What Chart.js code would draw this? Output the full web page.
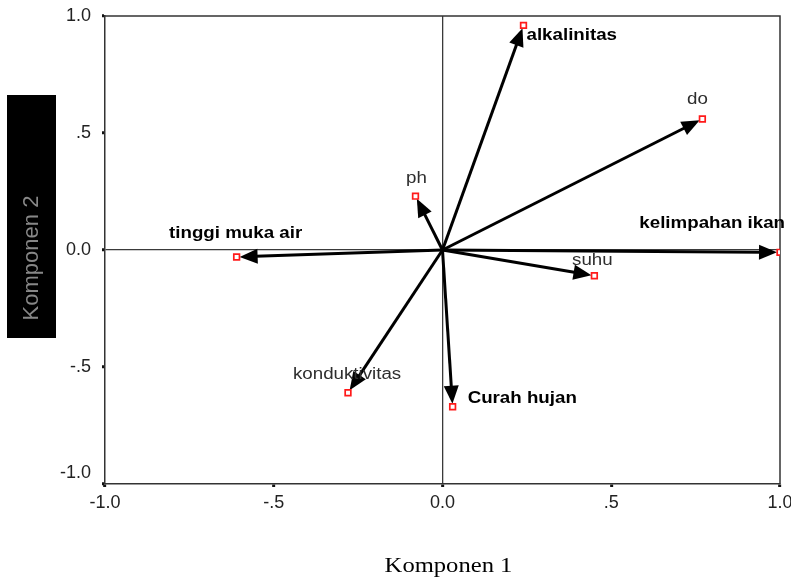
<!DOCTYPE html>
<html>
<head>
<meta charset="utf-8">
<script src="https://cdn.jsdelivr.net/npm/chart.js@4.4.1/dist/chart.umd.min.js"></script>
<style>
  html, body { margin: 0; padding: 0; background: #fff; }
  #wrap { width: 791px; height: 580px; position: relative; }
</style>
</head>
<body>
<div id="wrap"><canvas id="biplot" width="791" height="580"></canvas></div>
<script>
// Loadings of each variable on the first two components
const variables = ['alkalinitas', 'do', 'ph', 'tinggi muka air', 'kelimpahan ikan', 'suhu', 'konduktivitas', 'Curah hujan'];
const komponen1 = [0.24, 0.77, -0.08, -0.61, 1.00, 0.45, -0.28, 0.03];
const komponen2 = [0.96, 0.56, 0.23, -0.03, -0.01, -0.11, -0.61, -0.67];

// Axis ticks
const tickValues = [-1, -0.5, 0, 0.5, 1];
const tickLabels = ['-1.0', '-.5', '0.0', '.5', '1.0'];

// How each variable name is written next to its point
const labelStyle = {
  'alkalinitas':     { bold: true,  align: 'left',   dx: 3,  dy: 10 },
  'do':              { bold: false, align: 'center', dx: -5, dy: -19 },
  'ph':              { bold: false, align: 'center', dx: 1,  dy: -18 },
  'tinggi muka air': { bold: true,  align: 'center', dx: -1, dy: -23 },
  'kelimpahan ikan': { bold: true,  align: 'right',  dx: 5,  dy: -29 },
  'suhu':            { bold: false, align: 'center', dx: -2, dy: -15 },
  'konduktivitas':   { bold: false, align: 'left',   dx: -55, dy: -18 },
  'Curah hujan':     { bold: true,  align: 'left',   dx: 15, dy: -8 }
};

const SANS = '"Liberation Sans", Arial, sans-serif';
const SERIF = '"Liberation Serif", "Times New Roman", serif';
const TEXT_STRETCH = 1.17;   // labels are set slightly wide

function tickText(v, axis) {
  const i = tickValues.findIndex(t => Math.abs(t - v) < 1e-9);
  if (i < 0) return '';
  // lift the lowest y label clear of the x labels
  if (axis === 'y' && i === 0) return [tickLabels[i], ''];
  return tickLabels[i];
}

function wideText(ctx, text, x, y, align) {
  const w = ctx.measureText(text).width * TEXT_STRETCH;
  let left = x;
  if (align === 'center') left = x - w / 2;
  else if (align === 'right') left = x - w;
  ctx.save();
  ctx.translate(left, y);
  ctx.scale(TEXT_STRETCH, 1);
  ctx.textAlign = 'left';
  ctx.fillText(text, 0, 0);
  ctx.restore();
}

// Arrows from the origin to every loading
const arrowPlugin = {
  id: 'arrows',
  beforeDatasetsDraw(chart) {
    const { ctx, scales } = chart;
    const x0 = scales.x.getPixelForValue(0);
    const y0 = scales.y.getPixelForValue(0);
    ctx.save();
    ctx.strokeStyle = '#000';
    ctx.fillStyle = '#000';
    ctx.lineWidth = 3;
    variables.forEach((name, i) => {
      const px = scales.x.getPixelForValue(komponen1[i]);
      const py = scales.y.getPixelForValue(komponen2[i]);
      const dx = px - x0, dy = py - y0;
      const len = Math.hypot(dx, dy);
      const ux = dx / len, uy = dy / len;
      const tipX = px - ux * 3, tipY = py - uy * 3;
      const head = 18, half = 7.5;
      const bx = tipX - ux * head, by = tipY - uy * head;
      ctx.beginPath();
      ctx.moveTo(x0, y0);
      ctx.lineTo(bx + ux * 2, by + uy * 2);
      ctx.stroke();
      ctx.beginPath();
      ctx.moveTo(tipX, tipY);
      ctx.lineTo(bx - uy * half, by + ux * half);
      ctx.lineTo(bx + uy * half, by - ux * half);
      ctx.closePath();
      ctx.fill();
    });
    ctx.restore();
  }
};

// Frame, variable names and the axis captions
const decorPlugin = {
  id: 'decor',
  beforeDatasetsDraw(chart) {
    const { ctx, chartArea: a } = chart;
    ctx.save();
    ctx.strokeStyle = '#333';
    ctx.lineWidth = 1.5;
    ctx.beginPath();
    ctx.moveTo(a.left, a.top);
    ctx.lineTo(a.right, a.top);
    ctx.lineTo(a.right, a.bottom);
    ctx.stroke();
    ctx.restore();
  },
  afterDatasetsDraw(chart) {
    const { ctx, scales, chartArea: a } = chart;
    ctx.save();
    ctx.textBaseline = 'middle';
    variables.forEach((name, i) => {
      const s = labelStyle[name];
      const px = scales.x.getPixelForValue(komponen1[i]);
      const py = scales.y.getPixelForValue(komponen2[i]);
      ctx.font = (s.bold ? 'bold ' : '') + '16px ' + SANS;
      ctx.fillStyle = s.bold ? '#000' : '#2e2e2e';
      wideText(ctx, name, px + s.dx, py + s.dy, s.align);
    });
    ctx.restore();

    // Horizontal axis caption
    ctx.save();
    ctx.fillStyle = '#000';
    ctx.font = '20px ' + SERIF;
    ctx.textBaseline = 'alphabetic';
    const cx = (a.left + a.right) / 2 + 6;
    const w = ctx.measureText('Komponen 1').width * 1.23;
    ctx.translate(cx - w / 2, 572);
    ctx.scale(1.23, 1);
    ctx.fillText('Komponen 1', 0, 0);
    ctx.restore();

    // Vertical axis caption on a black panel
    ctx.save();
    ctx.fillStyle = '#000';
    ctx.fillRect(7, 95, 49, 243);
    ctx.translate(32, 258);
    ctx.rotate(-Math.PI / 2);
    ctx.filter = 'blur(0.6px)';
    ctx.fillStyle = '#878787';
    ctx.font = '22px ' + SANS;
    ctx.textAlign = 'center';
    ctx.textBaseline = 'middle';
    ctx.fillText('Komponen 2', 0, 0);
    ctx.restore();
  }
};

const zeroLine = c => (c.tick && Math.abs(c.tick.value) < 1e-9) ? '#3a3a3a' : 'rgba(0,0,0,0)';

new Chart(document.getElementById('biplot'), {
  type: 'scatter',
  data: {
    datasets: [{
      data: komponen1.map((x, i) => ({ x, y: komponen2[i] })),
      pointStyle: 'rect',
      pointRadius: 4,
      pointHoverRadius: 4,
      borderColor: '#ff1a1a',
      backgroundColor: '#ffffff',
      borderWidth: 1.7
    }]
  },
  options: {
    responsive: false,
    animation: false,
    events: [],
    layout: { padding: { top: 16, right: 11, bottom: 0, left: 0 } },
    plugins: { legend: { display: false }, tooltip: { enabled: false } },
    scales: {
      x: {
        type: 'linear', min: -1, max: 1,
        afterBuildTicks: s => { s.ticks = tickValues.map(v => ({ value: v })); },
        afterFit: s => { s.height = 96; s.paddingLeft = 0; s.paddingRight = 0; },
        ticks: {
          callback: v => tickText(v, 'x'), padding: 5, maxRotation: 0, autoSkip: false,
          color: '#222', font: { family: SANS, size: 18 }
        },
        grid: { color: zeroLine, lineWidth: 1.3, tickColor: '#111', tickLength: 3, tickWidth: 3 },
        border: { display: true, color: '#333', width: 1.5 }
      },
      y: {
        type: 'linear', min: -1, max: 1,
        afterBuildTicks: s => { s.ticks = tickValues.map(v => ({ value: v })); },
        afterFit: s => { s.width = 105; s.paddingTop = 0; s.paddingBottom = 0; },
        ticks: {
          callback: v => tickText(v, 'y'), padding: 11, autoSkip: false,
          color: '#222', font: { family: SANS, size: 18 }
        },
        grid: { color: zeroLine, lineWidth: 1.3, tickColor: '#111', tickLength: 3, tickWidth: 3 },
        border: { display: true, color: '#333', width: 1.5 }
      }
    }
  },
  plugins: [arrowPlugin, decorPlugin]
});
</script>
</body>
</html>
